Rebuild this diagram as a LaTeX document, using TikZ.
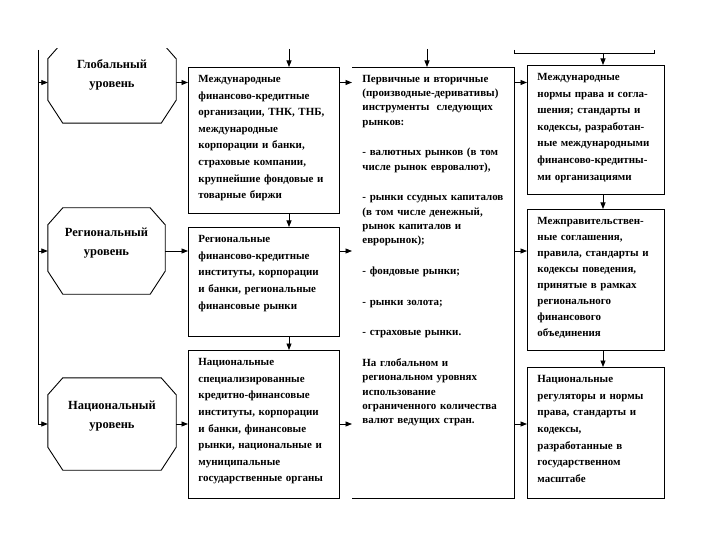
\documentclass[tikz,border=0pt]{standalone}
\usepackage{fontspec}
\setmainfont{Liberation Serif}
\usetikzlibrary{arrows.meta,positioning,calc}
\newcommand{\boxfont}{\fontsize{11}{16.7}\selectfont\bfseries}
\newcommand{\listfont}{\fontsize{11}{14.3}\selectfont\bfseries}
\newcommand{\levelfont}{\fontsize{12.5}{19}\selectfont\bfseries}
\tikzset{
  % octagonal "level" blocks: the node is only the frame, outline drawn by \octagonof
  levelblk/.style={align=center, font=\levelfont, inner sep=0pt, text depth=18bp},
  % rectangular content boxes, text set from the top
  infobox/.style={draw, line width=0.9bp, anchor=north west, align=left,
    inner xsep=10bp, inner ysep=7bp, text height=8bp, font=\boxfont},
  boxline/.style={line width=0.9bp},
  linkarr/.style={-{Triangle[length=6.5bp,width=5bp]}, line width=0.8bp},
}
% octagon outline round a named node
\newcommand{\octagonof}[1]{%
  \draw[boxline] ($(#1.north west)+(15,0)$) -- ($(#1.north east)+(-15,0)$)
    -- ($(#1.north east)+(0,17)$) -- ($(#1.south east)+(0,-23)$)
    -- ($(#1.south east)+(-15,0)$) -- ($(#1.south west)+(15,0)$)
    -- ($(#1.south west)+(0,-23)$) -- ($(#1.north west)+(0,17)$) -- cycle;}

\begin{document}
\begin{tikzpicture}[x=1bp,y=-1bp]
  \useasboundingbox (0,0) rectangle (720,540);
  % levels
  \node[levelblk, minimum width=128bp, minimum height=81bp] (glob) at (112,82.5) {Глобальный\\уровень};
  \node[levelblk, minimum width=117bp, minimum height=86bp] (regl) at (106.5,251) {Региональный\\уровень};
  \node[levelblk, minimum width=128bp, minimum height=92bp] (natl) at (112,424) {Национальный\\уровень};
  \begin{scope}
    \clip (0,49) rectangle (720,540);
    \octagonof{glob}
  \end{scope}
  \octagonof{regl}
  \octagonof{natl}
  % participants
  \node[infobox, text width=131bp, text depth=124bp] (intl) at (188,67)
    {Международные\\финансово-кредитные\\организации, ТНК, ТНБ,\\международные\\корпорации и банки,\\страховые компании,\\крупнейшие фондовые и\\товарные биржи};
  \node[infobox, text width=131bp, text depth=87bp] (reg) at (188,227)
    {Региональные\\финансово-кредитные\\институты, корпорации\\и банки, региональные\\финансовые рынки};
  \node[infobox, text width=131bp, text depth=126bp] (nat) at (188,350)
    {Национальные\\специализированные\\кредитно-финансовые\\институты, корпорации\\и банки, финансовые\\рынки, национальные и\\муниципальные\\государственные органы};
  % instruments (box open on the left)
  \node[infobox, draw=none, font=\listfont, text width=142bp, text depth=409bp] (instr) at (352,67)
    {Первичные и вторичные\\(производные-деривативы)\\инструменты\ \ следующих\\рынков:\\[16.5bp]
     - валютных рынков (в том\\числе рынок евровалют),\\[16.5bp]
     - рынки ссудных капиталов\\(в том числе денежный,\\рынок капиталов и\\еврорынок);\\[16.5bp]
     - фондовые рынки;\\[16.5bp]
     - рынки золота;\\[16.5bp]
     - страховые рынки.\\[16.5bp]
     На глобальном и\\региональном уровнях\\использование\\ограниченного количества\\валют ведущих стран.};
  \draw[boxline] (instr.north west) -- (instr.north east) -- (instr.south east) -- (instr.south west);
  % regulation
  \node[infobox, text width=117bp, text depth=107bp] (normg) at (527,65)
    {Международные\\нормы права и согла-\\шения; стандарты и\\кодексы, разработан-\\ные международными\\финансово-кредитны-\\ми организациями};
  \node[infobox, text width=117bp, text depth=119bp, font=\fontsize{11}{16.1}\selectfont\bfseries] (normr) at (527,209)
    {Межправительствен-\\ные соглашения,\\правила, стандарты и\\кодексы поведения,\\принятые в рамках\\регионального\\финансового\\объединения};
  \node[infobox, text width=117bp, text depth=109bp] (normn) at (527,367)
    {Национальные\\регуляторы и нормы\\права, стандарты и\\кодексы,\\разработанные в\\государственном\\масштабе};
  % cut-off box above the regulation column
  \draw[boxline] (514,50) -- (514,53) -- (654,53) -- (654,50);
  \coordinate (brk) at (603,53);
  \coordinate (bus) at (38,50);
  \coordinate (top2) at (289,49);
  \coordinate (top3) at (427,49);
  % left bus
  \draw[linkarr] (bus) |- (natl.west);
  \draw[linkarr] (bus |- glob.west) -- (glob.west);
  \draw[linkarr] (bus |- regl.west) -- (regl.west);
  % downward links
  \draw[linkarr] (top2) -- (top2 |- intl.north);
  \draw[linkarr] (intl.south -| top2) -- (reg.north -| top2);
  \draw[linkarr] (reg.south -| top2) -- (nat.north -| top2);
  \draw[linkarr] (top3) -- (top3 |- instr.north);
  \draw[linkarr] (brk) -- (brk |- normg.north);
  \draw[linkarr] (normg.south -| brk) -- (normr.north -| brk);
  \draw[linkarr] (normr.south -| brk) -- (normn.north -| brk);
  % row links
  \foreach \lvl in {glob,regl,natl}{
    \draw[linkarr] (\lvl.east) -- (\lvl.east -| intl.west);
    \draw[linkarr] (\lvl.east -| intl.east) -- (\lvl.east -| instr.west);
    \draw[linkarr] (\lvl.east -| instr.east) -- (\lvl.east -| normg.west);
  }
\end{tikzpicture}
\end{document}
